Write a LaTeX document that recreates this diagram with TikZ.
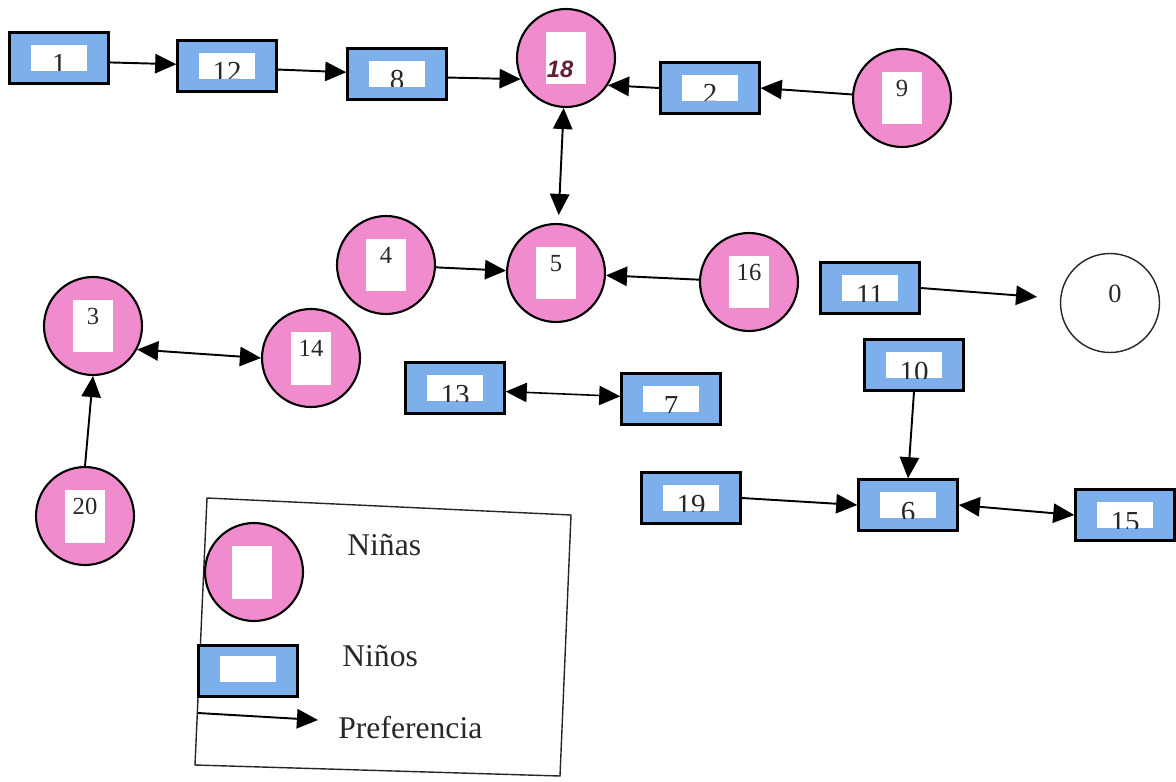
\documentclass[tikz,border=0pt]{standalone}
\usepackage{fontspec}
\setmainfont{Liberation Serif}
\newfontfamily\handfont{Liberation Sans}
\usetikzlibrary{arrows.meta,calc}
\definecolor{girlpink}{RGB}{240,140,205}
\definecolor{boyblue}{RGB}{125,175,235}
\definecolor{inkgray}{RGB}{40,40,40}
\definecolor{maroonink}{RGB}{100,30,55}
\tikzset{
  girl/.style={circle, draw=black, line width=1.2pt, fill=girlpink, minimum size=1.96cm, inner sep=0pt},
  girlin/.style={rectangle, fill=white, minimum width=0.8cm, minimum height=1.06cm, inner sep=0pt},
  boy/.style={rectangle, draw=black, line width=1.4pt, fill=boyblue, minimum width=1.98cm, minimum height=1.02cm, inner sep=0pt},
  boyin/.style={rectangle, fill=white, minimum width=1.12cm, minimum height=0.52cm, inner sep=0pt},
  girllbl/.style={inner sep=0pt, text=inkgray, font=\fontsize{14}{16}\selectfont},
  boylbl/.style={inner sep=0pt, text=inkgray, font=\fontsize{16.5}{18}\selectfont},
  emptygirl/.style={circle, draw=black!85, line width=0.8pt, fill=white, minimum size=1.98cm, inner sep=0pt},
  pref/.style={line width=1.1pt, -{Triangle[length=12pt,width=11pt]}},
  prefboth/.style={line width=1.1pt, {Triangle[length=12pt,width=11pt]}-{Triangle[length=12pt,width=11pt]}},
  legtext/.style={text=inkgray, font=\fontsize{18}{22}\selectfont, inner sep=0pt, anchor=base west},
}
\newcommand{\ninaNode}[3]{%
  \node[girl] (#1) at (#2) {};
  \node[girlin] (#1i) at (#2) {};
  \node[girllbl, anchor=north] (#1t) at ($(#1i.north)+(0,9)$) {#3};
}
\newcommand{\ninoNode}[3]{%
  \node[boy] (#1) at (#2) {};
  \node[boyin, path picture={\node[boylbl, anchor=base] (#1t) at ($(path picture bounding box.south)+(0,3)$) {#3};}] (#1i) at (#2) {};
}
\begin{document}
\begin{tikzpicture}[x=0.02cm, y=-0.02cm]
\useasboundingbox (0,0) rectangle (1176,781);

% boys
\ninoNode{b1}{59,58}{1}
\ninoNode{b12}{227,66}{12}
\ninoNode{b8}{397,74}{8}
\ninoNode{b2}{710,88}{2}
\ninoNode{b11}{870,288}{11}
\ninoNode{b13}{455,388}{13}
\ninoNode{b7}{671,399}{7}
\ninoNode{b10}{914,365}{10}
\ninoNode{b19}{691,498}{19}
\ninoNode{b6}{908,505}{6}
\ninoNode{b15}{1125,515}{15}

% girls
\node[girl] (g18) at (566,58) {};
\node[girlin] (g18i) at (566,58) {};
\node[inner sep=0pt, text=maroonink, font=\handfont\bfseries\itshape\fontsize{13.5}{16}\selectfont] (g18t) at (560,69) {18};
\ninaNode{g9}{902,98}{9}
\ninaNode{g4}{386,265}{4}
\ninaNode{g5}{556,273}{5}
\ninaNode{g16}{749,282}{16}
\ninaNode{g3}{93,326}{3}
\ninaNode{g14}{311,358}{14}
\ninaNode{g20}{85,516}{20}
\node[emptygirl] (g0) at (1110,303) {};
\node[inner sep=0pt, text=inkgray, font=\fontsize{15}{18}\selectfont] (g0t) at ($(g0.center)+(5,-9)$) {0};

% preferences
\draw[pref] (b1.-5) -- (b12.178);
\draw[pref] (b12.-4) -- (b8.178);
\draw[pref] (b8.-4) -- (g18.205);
\draw[pref] (b2.west) -- (g18.-33);
\draw[pref] (g9) -- (b2.east);
\draw[prefboth, shorten >=0.16cm] (g18) -- (g5);
\draw[pref] (g4) -- (g5);
\draw[pref] (g16) -- (g5);
\draw[pref, shorten >=0.46cm] (b11.east) -- (g0.175);
\draw[prefboth] (g3.-28) -- (g14.west);
\draw[pref] (g20.north) -- (g3.south);
\draw[prefboth, line width=0.9pt] (b13.-4) -- (b7.177);
\draw[pref] (b10.south) -- (b6.north);
\draw[pref] (b19.east) -- (b6.west);
\draw[prefboth] (b6.east) -- (b15.west);

% legend
\coordinate (fa) at (207,498);
\coordinate (fb) at (571,515);
\coordinate (fc) at (560,776);
\coordinate (fd) at (195,765);
\draw[line width=0.8pt, black!85] (fa) -- (fb) -- (fc) -- (fd) -- cycle;
\node[girl] (lg) at (254,572) {};
\node[girlin] (lgi) at (252,572) {};
\node[boy] (lb) at (248,671) {};
\node[boyin] (lbi) at (248,669) {};
\coordinate (la) at (198,713);
\coordinate (lz) at (318,720);
\draw[pref] (la) -- (lz);
\node[legtext] (tn1) at (347,555) {Niñas};
\node[legtext] (tn2) at (342,666) {Niños};
\node[legtext] (tn3) at (338,738) {Preferencia};
\end{tikzpicture}
\end{document}
